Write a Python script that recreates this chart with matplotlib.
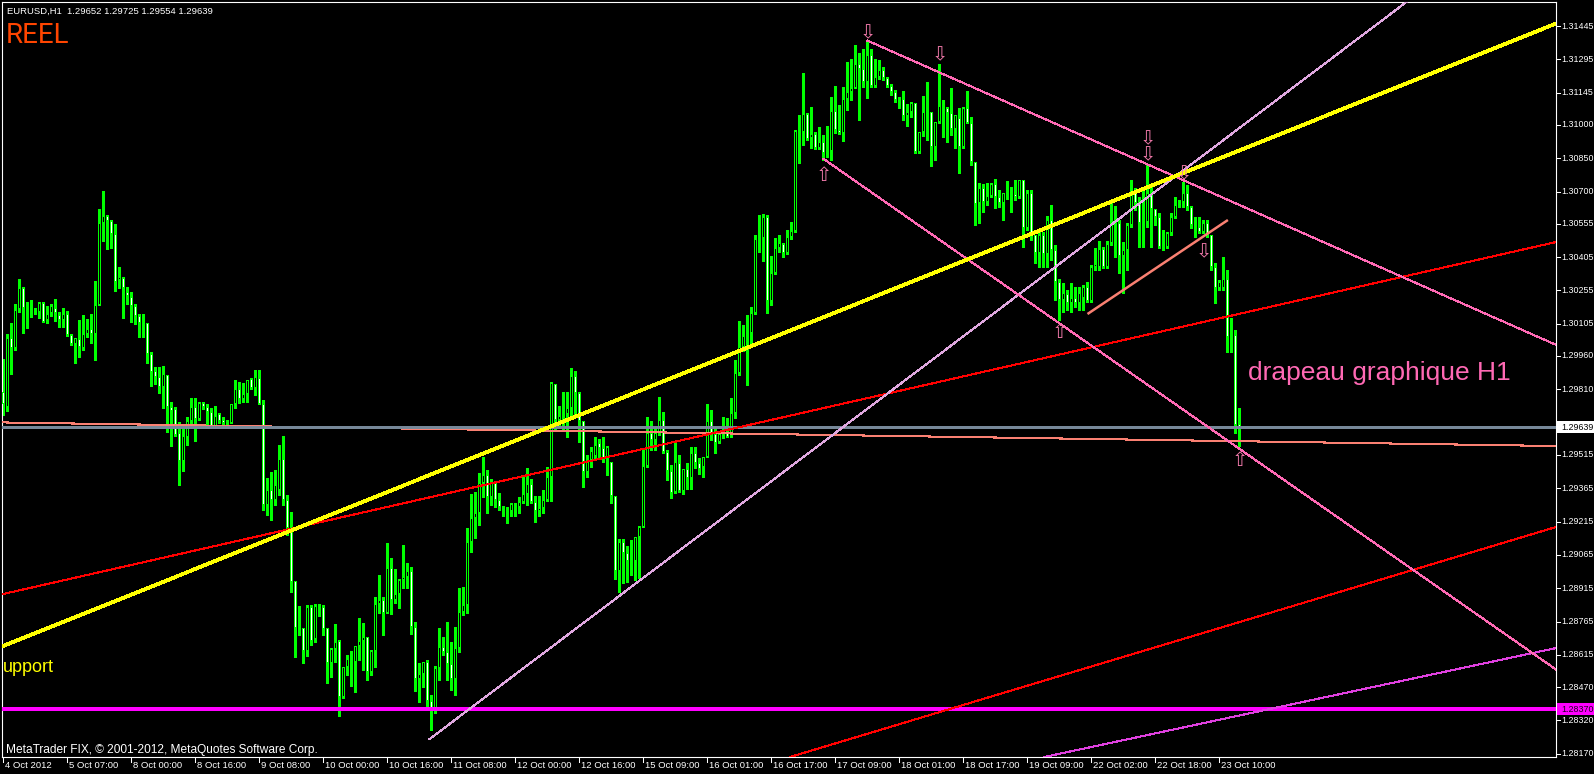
import numpy as np
import matplotlib
matplotlib.use("Agg")
import matplotlib.pyplot as plt
from matplotlib.patches import Rectangle
from matplotlib.transforms import blended_transform_factory

W, H = 1594, 774
DPI = 100

header_text = "EURUSD,H1  1.29652 1.29725 1.29554 1.29639"

opens = [
1.29798,1.29731,1.30041,1.29996,1.30172,1.30266,1.30176,1.30176,1.30167,1.30158,
1.30199,1.30122,1.30154,1.30176,1.30145,1.30122,1.30149,1.30055,1.30014,1.30037,
1.29996,1.30059,1.30082,1.30059,1.30190,1.30559,1.30590,1.30568,1.30509,1.30302,
1.30311,1.30248,1.30226,1.30185,1.30140,1.30109,1.30109,1.29969,1.29893,1.29866,
1.29821,1.29875,1.29731,1.29722,1.29614,1.29488,1.29596,1.29668,1.29731,1.29677,
1.29749,1.29731,1.29708,1.29641,1.29699,1.29672,1.29659,1.29659,1.29744,1.29812,
1.29767,1.29789,1.29857,1.29816,1.29861,1.29744,1.29290,1.29357,1.29312,1.29357,
1.29497,1.29312,1.29186,1.28948,1.28736,1.28736,1.28633,1.28831,1.28687,1.28835,
1.28831,1.28736,1.28579,1.28642,1.28678,1.28425,1.28561,1.28597,1.28583,1.28655,
1.28678,1.28696,1.28538,1.28633,1.28844,1.28862,1.28804,1.29006,1.28862,1.28889,
1.28952,1.28966,1.28993,1.28741,1.28507,1.28529,1.28583,1.28408,1.28358,1.28556,
1.28651,1.28628,1.28574,1.28507,1.28646,1.28808,1.28840,1.29123,1.29231,1.29254,
1.29389,1.29425,1.29326,1.29393,1.29312,1.29281,1.29272,1.29263,1.29294,1.29281,
1.29303,1.29339,1.29384,1.29303,1.29263,1.29276,1.29312,1.29416,1.29834,1.29672,
1.29690,1.29699,1.29726,1.29870,1.29794,1.29668,1.29438,1.29492,1.29510,1.29569,
1.29546,1.29501,1.29483,1.29330,1.28993,1.29123,1.29074,1.29038,1.29038,1.29146,
1.29191,1.29465,1.29614,1.29582,1.29614,1.29672,1.29528,1.29443,1.29348,1.29479,
1.29353,1.29452,1.29411,1.29524,1.29479,1.29461,1.29506,1.29668,1.29609,1.29573,
1.29609,1.29614,1.29600,1.29704,1.29884,1.30001,1.30050,1.30064,1.30154,1.30487,
1.30491,1.30586,1.30208,1.30334,1.30446,1.30464,1.30424,1.30496,1.30523,1.30972,
1.30968,1.31049,1.30941,1.30959,1.30896,1.30923,1.30878,1.30883,1.31063,1.30977,
1.30964,1.31117,1.31148,1.31166,1.31274,1.31252,1.31193,1.31315,1.31175,1.31215,
1.31247,1.31211,1.31175,1.31148,1.31112,1.31117,1.31040,1.31058,1.31099,1.30878,
1.30968,1.31058,1.31058,1.30900,1.31013,1.31085,1.31076,1.31054,1.30981,1.31031,
1.30900,1.31076,1.31008,1.30833,1.30649,1.30716,1.30653,1.30680,1.30734,1.30675,
1.30649,1.30694,1.30685,1.30689,1.30675,1.30752,1.30536,1.30694,1.30505,1.30424,
1.30505,1.30419,1.30572,1.30437,1.30293,1.30212,1.30239,1.30199,1.30221,1.30199,
1.30221,1.30271,1.30208,1.30361,1.30361,1.30442,1.30361,1.30469,1.30563,1.30559,
1.30410,1.30437,1.30550,1.30703,1.30649,1.30559,1.30563,1.30685,1.30622,1.30586,
1.30451,1.30451,1.30513,1.30586,1.30644,1.30653,1.30694,1.30631,1.30550,1.30541,
1.30518,1.30559,1.30505,1.30361,1.30266,1.30266,1.30307,1.30046,1.30055,1.29652]

highs = [
1.29947,1.30059,1.30109,1.30194,1.30307,1.30271,1.30203,1.30212,1.30176,1.30203,
1.30203,1.30185,1.30194,1.30217,1.30158,1.30176,1.30163,1.30059,1.30041,1.30122,
1.30145,1.30127,1.30149,1.30298,1.30622,1.30703,1.30595,1.30572,1.30554,1.30361,
1.30316,1.30271,1.30248,1.30194,1.30149,1.30149,1.30109,1.29978,1.29911,1.29911,
1.29915,1.29875,1.29753,1.29731,1.29663,1.29636,1.29686,1.29771,1.29771,1.29753,
1.29753,1.29744,1.29726,1.29735,1.29704,1.29686,1.29672,1.29744,1.29852,1.29843,
1.29839,1.29852,1.29861,1.29897,1.29897,1.29762,1.29411,1.29438,1.29447,1.29560,
1.29600,1.29335,1.29258,1.28948,1.28835,1.28736,1.28840,1.28840,1.28844,1.28844,
1.28840,1.28736,1.28646,1.28754,1.28682,1.28561,1.28615,1.28633,1.28655,1.28781,
1.28759,1.28696,1.28637,1.28876,1.28975,1.28876,1.29119,1.29051,1.29002,1.28957,
1.29110,1.29029,1.29011,1.28763,1.28579,1.28583,1.28592,1.28435,1.28565,1.28736,
1.28696,1.28763,1.28673,1.28741,1.28916,1.28921,1.29186,1.29339,1.29348,1.29434,
1.29506,1.29447,1.29407,1.29398,1.29344,1.29285,1.29281,1.29299,1.29299,1.29326,
1.29425,1.29456,1.29407,1.29330,1.29330,1.29357,1.29461,1.29843,1.29834,1.29735,
1.29798,1.29798,1.29906,1.29893,1.29798,1.29668,1.29515,1.29551,1.29596,1.29587,
1.29596,1.29555,1.29483,1.29330,1.29137,1.29137,1.29105,1.29132,1.29146,1.29195,
1.29546,1.29686,1.29668,1.29641,1.29776,1.29708,1.29537,1.29470,1.29569,1.29515,
1.29452,1.29479,1.29551,1.29551,1.29501,1.29506,1.29744,1.29717,1.29641,1.29618,
1.29686,1.29681,1.29771,1.29942,1.30118,1.30100,1.30145,1.30181,1.30505,1.30595,
1.30599,1.30595,1.30410,1.30491,1.30505,1.30469,1.30527,1.30563,1.30977,1.31045,
1.31234,1.31054,1.31081,1.30968,1.30991,1.30955,1.30995,1.31125,1.31175,1.31090,
1.31171,1.31283,1.31297,1.31360,1.31324,1.31342,1.31378,1.31342,1.31297,1.31292,
1.31261,1.31215,1.31184,1.31157,1.31125,1.31153,1.31094,1.31103,1.31099,1.30968,
1.31130,1.31193,1.31058,1.31013,1.31274,1.31112,1.31081,1.31166,1.31045,1.31076,
1.31081,1.31153,1.31036,1.30833,1.30739,1.30734,1.30739,1.30739,1.30757,1.30707,
1.30694,1.30748,1.30721,1.30752,1.30752,1.30752,1.30707,1.30707,1.30505,1.30527,
1.30518,1.30590,1.30640,1.30460,1.30307,1.30289,1.30257,1.30289,1.30271,1.30271,
1.30280,1.30293,1.30370,1.30446,1.30478,1.30451,1.30478,1.30653,1.30635,1.30572,
1.30473,1.30559,1.30752,1.30716,1.30675,1.30716,1.30820,1.30721,1.30622,1.30604,
1.30527,1.30518,1.30604,1.30675,1.30662,1.30743,1.30730,1.30635,1.30586,1.30586,
1.30572,1.30572,1.30505,1.30379,1.30302,1.30405,1.30347,1.30131,1.30077,1.29725]

lows = [
1.29695,1.29713,1.29879,1.29987,1.30158,1.30064,1.30086,1.30136,1.30149,1.30131,
1.30113,1.30109,1.30140,1.30118,1.30091,1.30091,1.30050,1.30010,1.29929,1.29956,
1.29987,1.30046,1.30019,1.29942,1.30190,1.30478,1.30442,1.30446,1.30253,1.30266,
1.30131,1.30194,1.30113,1.30104,1.30046,1.30046,1.29929,1.29825,1.29834,1.29794,
1.29726,1.29618,1.29555,1.29600,1.29380,1.29443,1.29560,1.29650,1.29578,1.29672,
1.29722,1.29654,1.29641,1.29641,1.29659,1.29641,1.29641,1.29659,1.29726,1.29749,
1.29753,1.29753,1.29812,1.29785,1.29744,1.29267,1.29245,1.29222,1.29290,1.29335,
1.29290,1.29154,1.28898,1.28606,1.28704,1.28579,1.28610,1.28660,1.28673,1.28790,
1.28704,1.28489,1.28515,1.28583,1.28340,1.28421,1.28525,1.28475,1.28448,1.28592,
1.28547,1.28502,1.28525,1.28561,1.28804,1.28704,1.28804,1.28799,1.28849,1.28826,
1.28916,1.28916,1.28709,1.28453,1.28403,1.28471,1.28367,1.28277,1.28354,1.28502,
1.28615,1.28502,1.28457,1.28435,1.28628,1.28795,1.28804,1.29078,1.29141,1.29200,
1.29326,1.29254,1.29290,1.29281,1.29267,1.29240,1.29209,1.29240,1.29240,1.29254,
1.29299,1.29290,1.29299,1.29213,1.29240,1.29254,1.29308,1.29308,1.29632,1.29641,
1.29627,1.29596,1.29690,1.29686,1.29573,1.29371,1.29416,1.29461,1.29497,1.29506,
1.29483,1.29425,1.29299,1.28957,1.28898,1.28939,1.28943,1.28975,1.28952,1.28961,
1.29191,1.29461,1.29537,1.29537,1.29605,1.29524,1.29402,1.29321,1.29344,1.29348,
1.29339,1.29362,1.29362,1.29456,1.29429,1.29416,1.29506,1.29582,1.29524,1.29569,
1.29591,1.29596,1.29596,1.29681,1.29875,1.29983,1.29830,1.30019,1.30149,1.30428,
1.30388,1.30154,1.30190,1.30329,1.30428,1.30405,1.30419,1.30487,1.30518,1.30829,
1.30910,1.30932,1.30896,1.30892,1.30892,1.30842,1.30855,1.30842,1.30964,1.30959,
1.30928,1.31067,1.31112,1.31166,1.31022,1.31171,1.31121,1.31171,1.31171,1.31206,
1.31202,1.31171,1.31134,1.31103,1.31076,1.31022,1.30995,1.31036,1.30874,1.30874,
1.30950,1.30932,1.30815,1.30842,1.31008,1.30945,1.30923,1.30955,1.30896,1.30784,
1.30896,1.31008,1.30820,1.30550,1.30559,1.30608,1.30640,1.30675,1.30626,1.30631,
1.30572,1.30667,1.30608,1.30662,1.30671,1.30451,1.30527,1.30482,1.30379,1.30361,
1.30361,1.30361,1.30392,1.30212,1.30122,1.30158,1.30167,1.30158,1.30181,1.30167,
1.30167,1.30203,1.30203,1.30347,1.30347,1.30356,1.30356,1.30460,1.30405,1.30334,
1.30244,1.30347,1.30541,1.30617,1.30451,1.30451,1.30541,1.30451,1.30550,1.30446,
1.30437,1.30446,1.30505,1.30581,1.30631,1.30631,1.30617,1.30536,1.30496,1.30513,
1.30513,1.30496,1.30347,1.30199,1.30257,1.30257,1.29978,1.29978,1.29614,1.29554]

closes = [
1.29744,1.30041,1.29996,1.30167,1.30266,1.30176,1.30176,1.30176,1.30158,1.30199,
1.30113,1.30149,1.30185,1.30154,1.30122,1.30149,1.30055,1.30014,1.30041,1.30001,
1.30059,1.30082,1.30059,1.30190,1.30559,1.30590,1.30568,1.30509,1.30293,1.30316,
1.30266,1.30230,1.30185,1.30140,1.30109,1.30109,1.29969,1.29888,1.29866,1.29821,
1.29879,1.29731,1.29713,1.29605,1.29488,1.29600,1.29668,1.29731,1.29677,1.29749,
1.29731,1.29708,1.29641,1.29690,1.29668,1.29659,1.29659,1.29744,1.29812,1.29767,
1.29789,1.29852,1.29816,1.29866,1.29744,1.29290,1.29357,1.29312,1.29380,1.29497,
1.29312,1.29186,1.28943,1.28736,1.28736,1.28633,1.28831,1.28678,1.28835,1.28826,
1.28732,1.28579,1.28642,1.28673,1.28425,1.28561,1.28597,1.28588,1.28655,1.28678,
1.28696,1.28538,1.28633,1.28844,1.28862,1.28804,1.29006,1.28862,1.28889,1.28952,
1.28966,1.28993,1.28741,1.28507,1.28529,1.28583,1.28408,1.28358,1.28556,1.28651,
1.28628,1.28574,1.28507,1.28646,1.28808,1.28840,1.29123,1.29231,1.29254,1.29389,
1.29425,1.29326,1.29393,1.29312,1.29281,1.29272,1.29263,1.29294,1.29285,1.29303,
1.29339,1.29384,1.29303,1.29263,1.29276,1.29312,1.29416,1.29839,1.29672,1.29690,
1.29699,1.29726,1.29870,1.29794,1.29668,1.29438,1.29492,1.29533,1.29560,1.29546,
1.29501,1.29551,1.29330,1.28993,1.29123,1.29074,1.29038,1.29047,1.29146,1.29191,
1.29465,1.29614,1.29582,1.29614,1.29672,1.29528,1.29443,1.29344,1.29483,1.29353,
1.29452,1.29411,1.29524,1.29479,1.29452,1.29506,1.29668,1.29609,1.29569,1.29609,
1.29614,1.29596,1.29704,1.29884,1.30001,1.30050,1.30059,1.30154,1.30487,1.30491,
1.30586,1.30208,1.30334,1.30446,1.30469,1.30424,1.30496,1.30523,1.30972,1.30968,
1.31049,1.30937,1.30959,1.30896,1.30923,1.30874,1.30883,1.31063,1.30977,1.30964,
1.31117,1.31148,1.31166,1.31274,1.31252,1.31193,1.31315,1.31175,1.31215,1.31247,
1.31211,1.31175,1.31148,1.31112,1.31117,1.31040,1.31058,1.31099,1.30878,1.30968,
1.31058,1.31058,1.30900,1.31013,1.31085,1.31076,1.31054,1.30981,1.31045,1.30900,
1.31076,1.31008,1.30833,1.30644,1.30716,1.30653,1.30680,1.30734,1.30675,1.30649,
1.30694,1.30685,1.30689,1.30675,1.30752,1.30536,1.30694,1.30513,1.30424,1.30505,
1.30419,1.30572,1.30437,1.30293,1.30212,1.30244,1.30199,1.30221,1.30199,1.30244,
1.30271,1.30208,1.30361,1.30374,1.30442,1.30361,1.30464,1.30563,1.30559,1.30410,
1.30437,1.30550,1.30703,1.30649,1.30559,1.30563,1.30694,1.30622,1.30586,1.30451,
1.30451,1.30513,1.30586,1.30640,1.30653,1.30694,1.30631,1.30550,1.30541,1.30518,
1.30559,1.30505,1.30361,1.30266,1.30293,1.30307,1.30046,1.30055,1.29650,1.29639]

time_labels = ["4 Oct 2012", "5 Oct 07:00", "8 Oct 00:00", "8 Oct 16:00", "9 Oct 08:00",
               "10 Oct 00:00", "10 Oct 16:00", "11 Oct 08:00", "12 Oct 00:00", "12 Oct 16:00",
               "15 Oct 09:00", "16 Oct 01:00", "16 Oct 17:00", "17 Oct 09:00", "18 Oct 01:00",
               "18 Oct 17:00", "19 Oct 09:00", "22 Oct 02:00", "22 Oct 18:00", "23 Oct 10:00"]
time_label_step = 16

price_labels = ["1.31445", "1.31295", "1.31145", "1.31000", "1.30850", "1.30700", "1.30555",
                "1.30405", "1.30255", "1.30105", "1.29960", "1.29810", "1.29660", "1.29515",
                "1.29365", "1.29215", "1.29065", "1.28915", "1.28765", "1.28615", "1.28470",
                "1.28320", "1.28170"]

bid_price = 1.29639
level_price = 1.28370

# chart objects: anchors as (bar index, price)
yellow_line = ((71.7, 1.29173), (324.2, 1.30995))
red_line_upper = ((249.2, 1.29906), (324.2, 1.30212))
red_line_lower = ((211.7, 1.28237), (388.2, 1.29191))
violet_line = ((300.0, 1.28308), (388.2, 1.28646))
salmon_line = ((0.0, 1.29661), (300.0, 1.29579))
pink_ray_upper = ((216.0, 1.31379), (300.0, 1.30711))
pink_ray_lower = ((205.0, 1.30847), (300.0, 1.29655))
plum_ray = ((106.5, 1.28236), (300.0, 1.30864))
flag_segment = ((271.0, 1.30149), (306.1, 1.30572))

down_arrows = [(216, 1.31414), (234, 1.31315), (286, 1.30937), (286, 1.30865),
               (295, 1.30781), (300, 1.30430)]
up_arrows = [(205, 1.30770), (264, 1.30064), (309, 1.29488)]

flag_text = ("drapeau graphique H1", 311.1, 1.29852)
support_text = ("upport", -0.2, 1.28556)

# ---------------------------------------------------------------
n = min(len(opens), len(highs), len(lows), len(closes))
o = np.array(opens[:n]); h = np.array(highs[:n]); l = np.array(lows[:n]); c = np.array(closes[:n])
h = np.maximum(h, np.maximum(o, c))
l = np.minimum(l, np.minimum(o, c))
idx = np.arange(n)

LIME = "#00FF00"
P_TOP = 1.31553
PX = 4.5e-5
AX_H_PX = 755
P_BOT = P_TOP - AX_H_PX * PX
X_LEFT = -0.375
X_RIGHT = 388.25

fig = plt.figure(figsize=(W / DPI, H / DPI), dpi=DPI, facecolor="black")
ax = fig.add_axes([2 / W, (H - 757) / H, 1554.5 / W, AX_H_PX / H])
ax.set_facecolor("black")
ax.set_xlim(X_LEFT, X_RIGHT)
ax.set_ylim(P_BOT, P_TOP)
ax.set_xticks([]); ax.set_yticks([])
for s in ax.spines.values():
    s.set_color("white"); s.set_linewidth(0.8)

# candles
ax.vlines(idx, l, h, colors=LIME, linewidth=0.75, antialiased=False, zorder=2)
lo = np.minimum(o, c); hi = np.maximum(o, c)
hgt = np.maximum(hi - lo, PX)
ax.bar(idx, hgt, width=0.75, bottom=lo, color=LIME, linewidth=0, antialiased=False, zorder=3)
mask = (hi - lo) > 2.5 * PX
fills = np.where(c < o, "white", "black")
ax.bar(idx[mask], (hgt - 2 * PX)[mask], width=0.25, bottom=(lo + PX)[mask],
       color=fills[mask], linewidth=0, antialiased=False, zorder=4)

def full_line(anchors, **kw):
    ax.axline(anchors[0], anchors[1], **kw)

def ray(anchors, **kw):
    (k1, p1), (k2, p2) = anchors
    s = (p2 - p1) / (k2 - k1)
    ke = X_RIGHT + 10
    ax.plot([k1, ke], [p1, p1 + s * (ke - k1)], **kw)

LW1 = 0.75
full_line(salmon_line, color="#FA8072", lw=LW1, antialiased=False, zorder=5)
ax.axhline(bid_price, color="#778899", lw=LW1, antialiased=False, zorder=5)
ax.axhline(level_price, color="#FF00FF", lw=1.5, antialiased=False, zorder=5)
full_line(red_line_upper, color="#FF0000", lw=LW1, antialiased=False, zorder=5)
full_line(red_line_lower, color="#FF0000", lw=LW1, antialiased=False, zorder=5)
full_line(violet_line, color="#E040E0", lw=LW1, antialiased=False, zorder=5)
ray(plum_ray, color="#E0A8E0", lw=LW1, antialiased=False, zorder=5)
ray(pink_ray_upper, color="#FF69B4", lw=LW1, antialiased=False, zorder=5)
ray(pink_ray_lower, color="#FF69B4", lw=LW1, antialiased=False, zorder=5)
full_line(yellow_line, color="#FFFF00", lw=2.0, antialiased=False, zorder=6)
(fk1, fp1), (fk2, fp2) = flag_segment
ax.plot([fk1, fk2], [fp1, fp2], color="#FA8072", lw=1.8, solid_capstyle="butt", zorder=6)

ARROW_COLOR = "#EE78A8"
for k, p in down_arrows:
    ax.text(k, p, "\u21E9", color=ARROW_COLOR, fontsize=14, ha="center", va="center",
            family="DejaVu Sans", zorder=7)
for k, p in up_arrows:
    ax.text(k, p, "\u21E7", color=ARROW_COLOR, fontsize=14, ha="center", va="center",
            family="DejaVu Sans", zorder=7)

ax.text(flag_text[1], flag_text[2], flag_text[0], color="#FF69B4", fontsize=19,
        family="Liberation Sans", ha="left", va="baseline", zorder=8)
ax.text(support_text[1], support_text[2], support_text[0], color="#FFFF00", fontsize=13,
        family="Liberation Sans", ha="left", va="center", zorder=8)

# header texts
def fx(x): return x / W
def fy(y): return 1 - y / H

fig.text(fx(7), fy(11), header_text, color="white", fontsize=6.8,
         family="Liberation Sans", ha="left", va="center")
fig.text(fx(6), fy(43), "REEL", color="#FF4500", fontsize=20, family="Roboto",
         ha="left", va="baseline")
fig.text(fx(6), fy(750), "MetaTrader FIX, \u00A9 2001-2012, MetaQuotes Software Corp.",
         color="white", fontsize=8.6, family="Liberation Sans", ha="left", va="center", zorder=9)

# right price scale
tr_y = blended_transform_factory(fig.transFigure, ax.transData)
PFS = 6.4
for lab in price_labels:
    v = float(lab)
    fig.add_artist(plt.Line2D([fx(1557), fx(1560)], [v, v], transform=tr_y, color="white", lw=0.75))
    if abs(v - bid_price) < 8 * PX:
        continue
    fig.text(fx(1561.5), v, lab, transform=tr_y, color="white", fontsize=PFS,
             family="Liberation Sans", ha="left", va="center")

def price_box(v, face, txt_color):
    fig.add_artist(Rectangle((fx(1557), v - 6 * PX), fx(1594) - fx(1557), 12 * PX,
                             transform=tr_y, facecolor=face, edgecolor="none", zorder=10))
    fig.text(fx(1561.5), v, "%.5f" % v, transform=tr_y, color=txt_color, fontsize=PFS,
             family="Liberation Sans", ha="left", va="center", zorder=11)

price_box(bid_price, "white", "black")
price_box(level_price, "#FF00FF", "#200020")

# bottom time scale
tr_x = blended_transform_factory(ax.transData, fig.transFigure)
for i, lab in enumerate(time_labels):
    k = i * time_label_step
    fig.add_artist(plt.Line2D([k, k], [fy(757), fy(762)], transform=tr_x, color="white", lw=0.75))
    fig.text(k + 0.5, fy(766), lab, transform=tr_x, color="white", fontsize=6.8,
             family="Liberation Sans", ha="left", va="center")

fig.savefig("out.png", dpi=DPI, facecolor="black")
